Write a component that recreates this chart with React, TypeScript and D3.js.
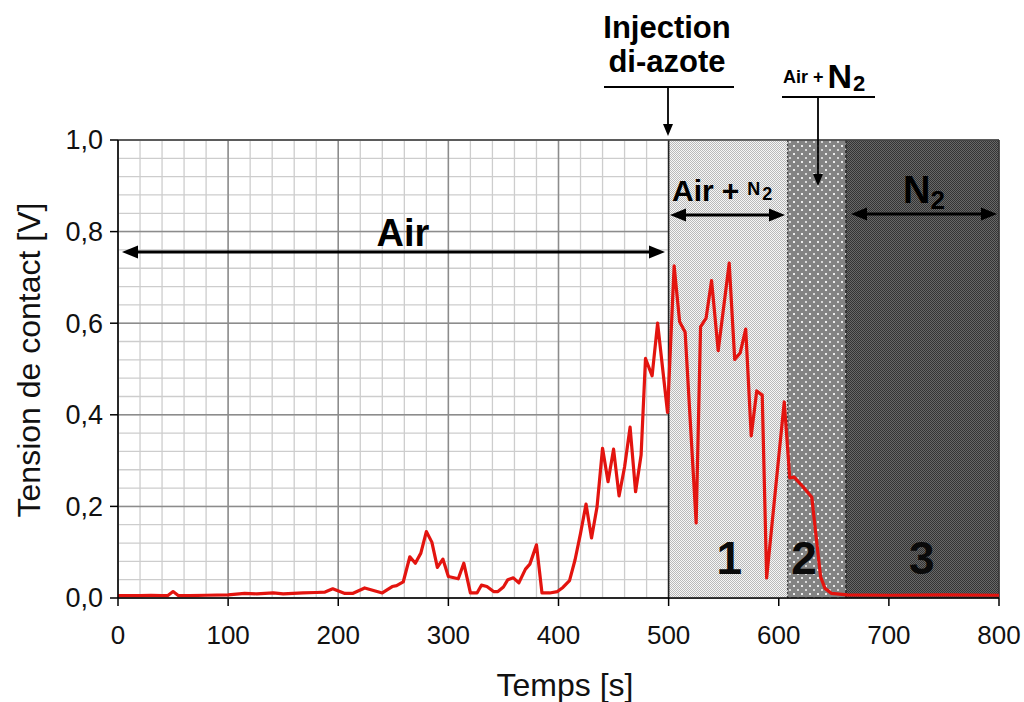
import React from "react";
import * as d3 from "d3";

const times = [0, 10, 20, 30, 40, 45, 50, 55, 65, 80, 100, 115, 126, 141, 150, 168, 180, 188, 195, 206, 213, 224, 240, 249, 253, 259, 265, 270, 275, 280, 285, 290, 295, 300, 309, 314, 320, 326, 330, 335, 341, 345, 350, 354, 359, 364, 370, 374, 380, 385, 392, 399, 404, 410, 415, 420, 425, 430, 435, 440, 445, 450, 455, 460, 465, 470, 475, 479, 485, 490, 499, 505, 510, 515, 525, 529, 534, 539, 545, 555, 560, 565, 570, 575, 580, 585, 589, 605, 610, 614, 622, 630, 634, 638, 642, 648, 662, 700, 750, 800];
const voltage = [0.005, 0.005, 0.005, 0.006, 0.005, 0.005, 0.014, 0.005, 0.005, 0.006, 0.007, 0.01, 0.009, 0.011, 0.009, 0.011, 0.012, 0.013, 0.02, 0.01, 0.01, 0.022, 0.011, 0.025, 0.027, 0.035, 0.09, 0.076, 0.098, 0.145, 0.122, 0.067, 0.085, 0.047, 0.042, 0.076, 0.011, 0.011, 0.028, 0.025, 0.014, 0.014, 0.024, 0.04, 0.044, 0.033, 0.063, 0.074, 0.116, 0.011, 0.011, 0.014, 0.023, 0.038, 0.083, 0.141, 0.205, 0.131, 0.199, 0.327, 0.254, 0.325, 0.223, 0.286, 0.373, 0.232, 0.312, 0.523, 0.485, 0.6, 0.405, 0.725, 0.603, 0.58, 0.164, 0.592, 0.611, 0.693, 0.54, 0.731, 0.521, 0.535, 0.587, 0.354, 0.452, 0.443, 0.044, 0.428, 0.262, 0.264, 0.243, 0.22, 0.133, 0.046, 0.021, 0.01, 0.007, 0.006, 0.007, 0.006];

const xTicks = [0, 100, 200, 300, 400, 500, 600, 700, 800];
const yTicks = [0, 0.2, 0.4, 0.6, 0.8, 1.0];
const yTickLabels = ["0,0", "0,2", "0,4", "0,6", "0,8", "1,0"];
const phaseStarts = [499.5, 608, 661];
const phaseEnd = 800;
const phaseNumbers = ["1", "2", "3"];
const injectionTime = 500;

const W = 1024;
const H = 702;
const FONT = "'Liberation Sans', Arial, Helvetica, sans-serif";
const NARROW = "'Liberation Sans Narrow', 'Arial Narrow', 'Liberation Sans', sans-serif";

export default function App() {
  const x = d3.scaleLinear().domain([0, 800]).range([118, 999]);
  const y = d3.scaleLinear().domain([0, 1]).range([598, 140]);
  const minorX = d3.range(0, 801, 20);
  const minorY = d3.range(0, 1.0001, 0.04);
  const line = d3
    .line<number>()
    .x((_, i) => x(times[i]))
    .y((d) => y(d));

  const ends = [phaseStarts[1], phaseStarts[2], phaseEnd];
  const fills = ["url(#p1)", "url(#p2)", "url(#p3)"];
  const numX = [555, 623, 730];

  const arrow = (x1: number, x2: number, yy: number, key: string) => (
    <g key={key}>
      <line x1={x1 + 10} x2={x2 - 10} y1={yy} y2={yy} stroke="#000" strokeWidth={2.8} />
      <path d={`M${x1},${yy} L${x1 + 16},${yy - 6.5} L${x1 + 16},${yy + 6.5} Z`} fill="#000" />
      <path d={`M${x2},${yy} L${x2 - 16},${yy - 6.5} L${x2 - 16},${yy + 6.5} Z`} fill="#000" />
    </g>
  );
  const downArrow = (xx: number, y1: number, y2: number) => (
    <g>
      <line x1={xx} x2={xx} y1={y1} y2={y2 - 8} stroke="#000" strokeWidth={1.8} />
      <path d={`M${xx},${y2} L${xx - 5},${y2 - 12} L${xx + 5},${y2 - 12} Z`} fill="#000" />
    </g>
  );

  return (
    <svg width={W} height={H} style={{ position: "absolute", left: 0, top: 0, background: "#fff" }} fontFamily={FONT}>
      <defs>
        <pattern id="p1" width={2} height={2} patternUnits="userSpaceOnUse">
          <rect width={2} height={2} fill="#f6f6f6" />
          <rect width={1} height={1} fill="#b9b9b9" />
          <rect x={1} y={1} width={1} height={1} fill="#b9b9b9" />
        </pattern>
        <pattern id="p2" width={8} height={8} patternUnits="userSpaceOnUse">
          <rect width={8} height={8} fill="#838383" />
          <rect x={1} y={1} width={2} height={2} fill="#ececec" />
          <rect x={5} y={5} width={2} height={2} fill="#d8d8d8" />
        </pattern>
        <pattern id="p3" width={2} height={2} patternUnits="userSpaceOnUse">
          <rect width={2} height={2} fill="#686868" />
          <rect width={1} height={1} fill="#343434" />
          <rect x={1} y={1} width={1} height={1} fill="#343434" />
        </pattern>
      </defs>

      {/* minor grid */}
      {minorX.map((v) => (
        <line key={"mx" + v} x1={x(v)} x2={x(v)} y1={y(0)} y2={y(1)} stroke="#cdcdcd" strokeWidth={1.3} />
      ))}
      {minorY.map((v) => (
        <line key={"my" + v} x1={x(0)} x2={x(800)} y1={y(v)} y2={y(v)} stroke="#cdcdcd" strokeWidth={1.3} />
      ))}
      {/* major grid */}
      {xTicks.map((v) => (
        <line key={"gx" + v} x1={x(v)} x2={x(v)} y1={y(0)} y2={y(1)} stroke="#8c8c8c" strokeWidth={1.5} />
      ))}
      {yTicks.map((v) => (
        <line key={"gy" + v} x1={x(0)} x2={x(800)} y1={y(v)} y2={y(v)} stroke="#8c8c8c" strokeWidth={1.5} />
      ))}

      {/* phases */}
      {phaseStarts.map((s, i) => (
        <rect key={"ph" + i} x={x(s)} y={y(1)} width={x(ends[i]) - x(s)} height={y(0) - y(1)} fill={fills[i]} />
      ))}
      <line x1={x(injectionTime)} x2={x(injectionTime)} y1={y(0)} y2={y(1)} stroke="#222" strokeWidth={1.6} />
      <line x1={x(phaseStarts[1])} x2={x(phaseStarts[1])} y1={y(0)} y2={y(1)} stroke="#444" strokeWidth={1.2} strokeDasharray="2,2" />
      <line x1={x(phaseStarts[2])} x2={x(phaseStarts[2])} y1={y(0)} y2={y(1)} stroke="#222" strokeWidth={1.4} strokeDasharray="3,2" />

      {/* frame */}
      <line x1={x(0)} x2={x(800)} y1={y(1)} y2={y(1)} stroke="#444" strokeWidth={1.6} />
      <line x1={x(800)} x2={x(800)} y1={y(1)} y2={y(0)} stroke="#333" strokeWidth={1.4} />

      {/* phase numbers */}
      {phaseNumbers.map((n, i) => (
        <text key={"n" + n} x={x(numX[i])} y={574} textAnchor="middle" fontFamily={NARROW} fontWeight="bold" fontSize={46} fill="#0a0a0a">
          {n}
        </text>
      ))}

      {/* data */}
      <path d={line(voltage) || ""} fill="none" stroke="#e3140f" strokeWidth={3.2} strokeLinejoin="round" />

      {/* axes */}
      <line x1={x(0)} x2={x(0)} y1={y(0)} y2={y(1)} stroke="#000" strokeWidth={1.5} />
      <line x1={x(0)} x2={x(800)} y1={y(0)} y2={y(0)} stroke="#000" strokeWidth={1.5} />
      {yTicks.map((v, i) => (
        <g key={"yt" + v}>
          <line x1={x(0) - 8} x2={x(0)} y1={y(v)} y2={y(v)} stroke="#000" strokeWidth={1.5} />
          <text x={x(0) - 15} y={y(v)} dy="0.35em" textAnchor="end" fontSize={27} fill="#111">
            {yTickLabels[i]}
          </text>
        </g>
      ))}
      {xTicks.map((v) => (
        <g key={"xt" + v}>
          <line x1={x(v)} x2={x(v)} y1={y(0)} y2={y(0) + 8} stroke="#000" strokeWidth={1.5} />
          <text x={x(v)} y={644} textAnchor="middle" fontSize={26} fill="#111">
            {v}
          </text>
        </g>
      ))}
      <text x={565} y={696} textAnchor="middle" fontSize={32} fill="#111">
        Temps [s]
      </text>
      <text transform="translate(40,360) rotate(-90)" textAnchor="middle" fontSize={32} fill="#111">
        Tension de contact [V]
      </text>

      {/* Air annotation */}
      <text x={403} y={246} textAnchor="middle" fontWeight="bold" fontSize={38}>
        Air
      </text>
      {arrow(122, 665, 252, "a1")}

      {/* Phase 1 label */}
      <text x={672} y={201} fontWeight="bold" fontSize={30}>
        Air
        <tspan dx={8}>+</tspan>
        <tspan fontSize={18} dx={8} dy={-6}>N</tspan>
        <tspan fontSize={18} dx={2} dy={5}>2</tspan>
      </text>
      {arrow(670, 785, 215, "a2")}

      {/* Phase 3 label */}
      <text x={903} y={203} fontWeight="bold" fontSize={38}>
        N<tspan fontSize={26} dy={6}>2</tspan>
      </text>
      {arrow(851, 997, 214, "a3")}

      {/* Injection annotation */}
      <text x={667} y={38} textAnchor="middle" fontWeight="bold" fontSize={31}>
        Injection
      </text>
      <text x={667} y={72} textAnchor="middle" fontWeight="bold" fontSize={31}>
        di-azote
      </text>
      <line x1={604} x2={734} y1={87} y2={87} stroke="#000" strokeWidth={1.8} />
      {downArrow(668, 87, 136)}

      {/* Air + N2 top annotation */}
      <text x={783} y={83} fontWeight="bold" fontSize={18}>
        Air +
        <tspan fontSize={34} dx={4} dy={5}>N</tspan>
        <tspan fontSize={22} dx={1} dy={3}>2</tspan>
      </text>
      <line x1={782} x2={875} y1={97} y2={97} stroke="#000" strokeWidth={1.8} />
      {downArrow(818, 97, 186)}
    </svg>
  );
}
